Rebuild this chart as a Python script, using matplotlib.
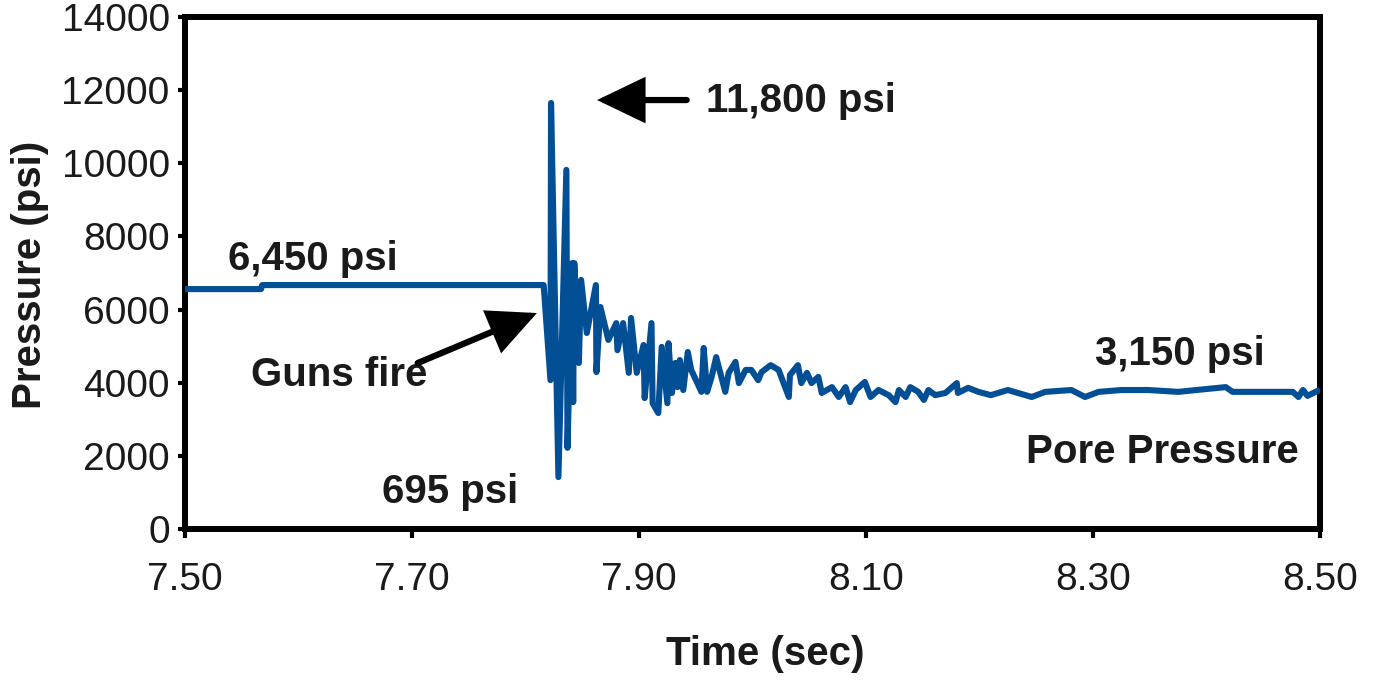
import matplotlib
matplotlib.use("Agg")
import matplotlib.pyplot as plt
from matplotlib.patches import FancyArrowPatch

plt.rcParams['font.family'] = ['Liberation Sans', 'DejaVu Sans']

# ---- data ----
time_s = [7.500, 7.567, 7.568, 7.816, 7.822, 7.8225, 7.829, 7.836, 7.837, 7.841,
          7.842, 7.843, 7.847, 7.849, 7.854, 7.862, 7.8625, 7.866, 7.873, 7.880,
          7.881, 7.886, 7.891, 7.893, 7.898, 7.904, 7.905, 7.911, 7.912, 7.917,
          7.920, 7.925, 7.926, 7.929, 7.932, 7.934, 7.936, 7.939, 7.943,
          7.946, 7.955, 7.957, 7.960,
          7.964, 7.968, 7.976, 7.979, 7.985, 7.988, 7.994, 7.999, 8.005, 8.008,
          8.016, 8.023, 8.032, 8.033, 8.040, 8.043, 8.048, 8.052, 8.058, 8.061,
          8.070, 8.076, 8.082, 8.086, 8.091, 8.099, 8.104, 8.111, 8.120, 8.126,
          8.129, 8.135, 8.139, 8.146, 8.151, 8.155, 8.161, 8.170, 8.180, 8.181,
          8.190, 8.199, 8.210, 8.225, 8.246, 8.258, 8.281, 8.293, 8.305, 8.325,
          8.349, 8.375, 8.417, 8.423, 8.476, 8.481, 8.485, 8.489, 8.496, 8.500]
pressure_psi = [6560, 6560, 6670, 6670, 4070, 11650, 1420, 9820, 2220, 7270,
                3470, 7270, 4540, 6810, 5360, 6670, 4290, 6070, 5170, 5630,
                4890, 5630, 4270, 5770, 4270, 5030, 3580, 5630, 3440, 3170,
                4980, 3440, 5080, 3720, 4540, 3880, 4620, 3800, 4840,
                4350, 3750, 4950, 3750,
                4160, 4700, 3750, 4270, 4570, 3990, 4350, 4350, 4070, 4290,
                4480, 4350, 3610, 4210, 4480, 3990, 4270, 3990, 4160, 3720,
                3880, 3610, 3880, 3470, 3800, 4020, 3610, 3800, 3660, 3470,
                3800, 3610, 3880, 3750, 3530, 3800, 3660, 3720, 3990, 3720,
                3860, 3750, 3660, 3800, 3610, 3750, 3800, 3610, 3750, 3800,
                3800, 3750, 3880, 3750, 3750, 3610, 3800, 3640, 3750, 3800]

x_ticks = [7.50, 7.70, 7.90, 8.10, 8.30, 8.50]
x_tick_labels = ["7.50", "7.70", "7.90", "8.10", "8.30", "8.50"]
y_ticks = [0, 2000, 4000, 6000, 8000, 10000, 12000, 14000]
y_tick_labels = [str(v) for v in y_ticks]

W, H = 1379, 683
fig = plt.figure(figsize=(W / 100, H / 100), dpi=100)
ax = fig.add_axes([185 / W, 1 - 529 / H, (1320 - 185) / W, (529 - 17) / H])

ax.plot(time_s, pressure_psi, color='#034f96', lw=4.4, solid_joinstyle='round',
        solid_capstyle='butt', clip_on=True, zorder=3)

ax.set_xlim(7.5, 8.5)
ax.set_ylim(0, 14000)
ax.set_xticks(x_ticks)
ax.set_xticklabels(x_tick_labels)
ax.set_yticks(y_ticks)
ax.set_yticklabels(y_tick_labels)

for s in ax.spines.values():
    s.set_linewidth(4.3)
    s.set_color('black')
ax.tick_params(axis='both', direction='out', width=3, color='black',
               labelsize=28, labelcolor='#1a1a1a')
ax.tick_params(axis='x', length=6.5, pad=17)
ax.tick_params(axis='y', length=5, pad=6)

bold = dict(fontsize=29, fontweight='bold', color='#1a1a1a')
ax.text(7.959, 11401, "11,800 psi", ha='left', va='baseline', **bold)
ax.text(7.538, 7081, "6,450 psi", ha='left', va='baseline', **bold)
ax.text(7.558, 3910, "Guns fire", ha='left', va='baseline', **bold)
ax.text(7.674, 711, "695 psi", ha='left', va='baseline', **bold)
ax.text(8.302, 4484, "3,150 psi", ha='left', va='baseline', **bold)
ax.text(8.241, 1804, "Pore Pressure", ha='left', va='baseline', **bold)

for tail, tip in [((7.942, 11729), (7.863, 11729)),
                  ((7.705, 4538), (7.810, 5905))]:
    arr = FancyArrowPatch(tail, tip, arrowstyle='-|>,head_length=1.25,head_width=0.6',
                          mutation_scale=22, lw=4.5, color='black',
                          shrinkA=0, shrinkB=0, joinstyle='miter', zorder=4)
    ax.add_patch(arr)

fig.text(765 / W, 1 - 665 / H, "Time (sec)", ha='center', va='baseline', **bold)
fig.text(30 / W, 1 - 275 / H, "Pressure (psi)", ha='center', va='center',
         rotation=90, **bold)

fig.savefig("out.png", dpi=100)
